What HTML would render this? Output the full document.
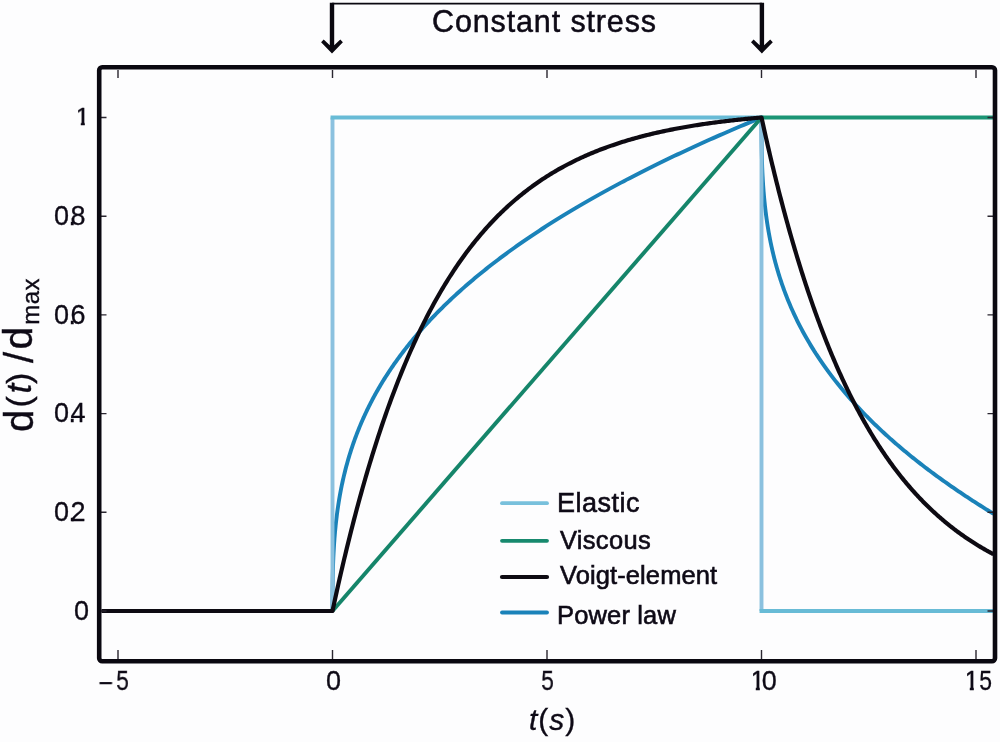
<!DOCTYPE html>
<html><head><meta charset="utf-8"><title>Creep response</title>
<style>
html,body{margin:0;padding:0;}
body{width:1000px;height:742px;background:#fdfdfe;overflow:hidden;position:relative;font-family:"Liberation Sans",sans-serif;color:#0e0a16;}
svg{position:absolute;left:0;top:0;}
.t{position:absolute;white-space:nowrap;line-height:1;will-change:transform;}
.one{display:inline-block;clip-path:polygon(3.1px 0,9.8px 0,9.8px 27px,5.8px 27px,5.8px 18.5px,3.1px 18.5px);}
.tick{font-size:27px;-webkit-text-stroke:0.3px #0e0a16;}
.leg{font-size:25.5px;-webkit-text-stroke:0.6px #0e0a16;}
#title{-webkit-text-stroke:0.5px #0e0a16;}
#xlab,#ylab{-webkit-text-stroke:0.35px #0e0a16;}
</style></head><body>
<svg width="1000" height="742" viewBox="0 0 1000 742">
<g fill="none" stroke-linejoin="miter">
<path d="M332.50,611.00 L332.50,607.96 L332.50,605.36 L332.50,602.90 L332.51,600.53 L332.52,598.23 L332.52,595.97 L332.54,593.75 L332.55,591.57 L332.57,589.42 L332.59,587.29 L332.61,585.18 L332.64,583.10 L332.67,581.03 L332.70,578.98 L332.74,576.95 L332.78,574.93 L332.83,572.93 L332.88,570.93 L332.93,568.95 L332.99,566.98 L333.06,565.02 L333.12,563.07 L333.20,561.13 L333.28,559.20 L333.36,557.28 L333.45,555.37 L333.54,553.46 L333.64,551.56 L333.75,549.67 L333.86,547.79 L333.97,545.91 L334.09,544.04 L334.22,542.18 L334.36,540.32 L334.49,538.47 L334.64,536.62 L334.79,534.78 L334.95,532.94 L335.11,531.11 L335.28,529.29 L335.46,527.47 L335.65,525.65 L335.84,523.84 L336.03,522.03 L336.24,520.23 L336.45,518.43 L336.67,516.64 L336.89,514.85 L337.13,513.06 L337.36,511.28 L337.61,509.50 L337.87,507.73 L338.13,505.96 L338.40,504.19 L338.67,502.42 L338.96,500.66 L339.25,498.91 L339.55,497.15 L339.86,495.40 L340.17,493.66 L340.50,491.91 L340.83,490.17 L341.17,488.43 L341.52,486.70 L341.87,484.97 L342.24,483.24 L342.61,481.51 L342.99,479.79 L343.38,478.07 L343.78,476.35 L344.19,474.63 L344.61,472.92 L345.03,471.21 L345.46,469.50 L345.91,467.80 L346.36,466.10 L346.82,464.39 L347.29,462.70 L347.77,461.00 L348.25,459.31 L348.75,457.62 L349.26,455.93 L349.77,454.24 L350.30,452.56 L350.83,450.87 L351.38,449.19 L351.93,447.52 L352.49,445.84 L353.07,444.17 L353.65,442.49 L354.24,440.82 L354.84,439.15 L355.45,437.49 L356.08,435.82 L356.71,434.16 L357.35,432.50 L358.00,430.84 L358.66,429.19 L359.34,427.53 L360.02,425.88 L360.71,424.23 L361.42,422.58 L362.13,420.93 L362.86,419.28 L363.59,417.64 L364.34,416.00 L365.09,414.36 L365.86,412.72 L366.64,411.08 L367.42,409.44 L368.22,407.81 L369.03,406.17 L369.86,404.54 L370.69,402.91 L371.53,401.29 L372.38,399.66 L373.25,398.03 L374.13,396.41 L375.01,394.79 L375.91,393.17 L376.82,391.55 L377.74,389.93 L378.68,388.31 L379.62,386.70 L380.58,385.08 L381.54,383.47 L382.52,381.86 L383.51,380.25 L384.51,378.64 L385.53,377.04 L386.55,375.43 L387.59,373.83 L388.64,372.22 L389.70,370.62 L390.78,369.02 L391.86,367.42 L392.96,365.82 L394.07,364.23 L395.19,362.63 L396.32,361.04 L397.47,359.44 L398.63,357.85 L399.80,356.26 L400.98,354.67 L402.17,353.08 L403.38,351.50 L404.60,349.91 L405.83,348.33 L407.08,346.74 L408.34,345.16 L409.61,343.58 L410.89,342.00 L412.19,340.42 L413.49,338.84 L414.82,337.27 L416.15,335.69 L417.50,334.12 L418.86,332.54 L420.23,330.97 L421.62,329.40 L423.01,327.83 L424.43,326.26 L425.85,324.69 L427.29,323.12 L428.74,321.56 L430.21,319.99 L431.68,318.43 L433.18,316.87 L434.68,315.30 L436.20,313.74 L437.73,312.18 L439.28,310.62 L440.84,309.07 L442.41,307.51 L443.99,305.95 L445.59,304.40 L447.21,302.84 L448.83,301.29 L450.47,299.74 L452.13,298.19 L453.80,296.63 L455.48,295.09 L457.18,293.54 L458.89,291.99 L460.61,290.44 L462.35,288.90 L464.10,287.35 L465.87,285.81 L467.65,284.26 L469.44,282.72 L471.25,281.18 L473.07,279.64 L474.91,278.10 L476.76,276.56 L478.63,275.02 L480.51,273.48 L482.41,271.95 L484.32,270.41 L486.24,268.88 L488.18,267.34 L490.13,265.81 L492.10,264.28 L494.08,262.75 L496.08,261.21 L498.09,259.68 L500.12,258.16 L502.16,256.63 L504.22,255.10 L506.29,253.57 L508.37,252.05 L510.48,250.52 L512.59,249.00 L514.72,247.47 L516.87,245.95 L519.03,244.43 L521.21,242.91 L523.40,241.39 L525.61,239.87 L527.83,238.35 L530.07,236.83 L532.32,235.31 L534.59,233.80 L536.87,232.28 L539.17,230.76 L541.48,229.25 L543.81,227.74 L546.16,226.22 L548.52,224.71 L550.90,223.20 L553.29,221.69 L555.69,220.18 L558.12,218.67 L560.56,217.16 L563.01,215.65 L565.48,214.14 L567.97,212.64 L570.47,211.13 L572.99,209.62 L575.52,208.12 L578.07,206.62 L580.64,205.11 L583.22,203.61 L585.82,202.11 L588.43,200.61 L591.06,199.10 L593.71,197.60 L596.37,196.10 L599.05,194.61 L601.75,193.11 L604.46,191.61 L607.19,190.11 L609.93,188.62 L612.69,187.12 L615.47,185.63 L618.26,184.13 L621.07,182.64 L623.90,181.15 L626.74,179.65 L629.60,178.16 L632.48,176.67 L635.37,175.18 L638.28,173.69 L641.20,172.20 L644.15,170.71 L647.11,169.22 L650.08,167.74 L653.08,166.25 L656.09,164.76 L659.11,163.28 L662.16,161.79 L665.22,160.31 L668.30,158.82 L671.39,157.34 L674.50,155.86 L677.63,154.37 L680.78,152.89 L683.94,151.41 L687.12,149.93 L690.32,148.45 L693.53,146.97 L696.77,145.49 L700.02,144.01 L703.28,142.54 L706.57,141.06 L709.87,139.58 L713.19,138.11 L716.52,136.63 L719.88,135.16 L723.25,133.68 L726.64,132.21 L730.05,130.74 L733.47,129.26 L736.91,127.79 L740.37,126.32 L743.85,124.85 L747.34,123.38 L750.86,121.91 L754.39,120.44 L757.93,118.97 L761.50,117.50 L761.50,119.94 L761.50,122.03 L761.50,124.00 L761.50,125.90 L761.51,127.76 L761.51,129.57 L761.52,131.35 L761.53,133.10 L761.54,134.83 L761.55,136.54 L761.56,138.23 L761.57,139.90 L761.59,141.56 L761.61,143.21 L761.63,144.84 L761.65,146.46 L761.68,148.07 L761.70,149.67 L761.73,151.26 L761.77,152.84 L761.80,154.42 L761.84,155.98 L761.88,157.54 L761.92,159.09 L761.97,160.63 L762.01,162.17 L762.06,163.70 L762.12,165.22 L762.17,166.74 L762.23,168.26 L762.30,169.76 L762.36,171.26 L762.43,172.76 L762.50,174.25 L762.58,175.74 L762.66,177.22 L762.74,178.70 L762.82,180.18 L762.91,181.65 L763.01,183.11 L763.10,184.57 L763.20,186.03 L763.30,187.49 L763.41,188.94 L763.52,190.39 L763.64,191.83 L763.75,193.27 L763.88,194.71 L764.00,196.14 L764.13,197.57 L764.26,199.00 L764.40,200.42 L764.54,201.85 L764.69,203.26 L764.84,204.68 L764.99,206.09 L765.15,207.51 L765.31,208.91 L765.48,210.32 L765.65,211.72 L765.83,213.12 L766.00,214.52 L766.19,215.91 L766.38,217.31 L766.57,218.70 L766.77,220.09 L766.97,221.47 L767.17,222.86 L767.39,224.24 L767.60,225.62 L767.82,227.00 L768.05,228.37 L768.28,229.74 L768.51,231.12 L768.75,232.48 L768.99,233.85 L769.24,235.22 L769.50,236.58 L769.76,237.94 L770.02,239.30 L770.29,240.66 L770.56,242.02 L770.84,243.37 L771.12,244.72 L771.41,246.07 L771.71,247.42 L772.01,248.77 L772.31,250.12 L772.62,251.46 L772.94,252.80 L773.26,254.14 L773.58,255.48 L773.91,256.82 L774.25,258.16 L774.59,259.49 L774.94,260.83 L775.29,262.16 L775.65,263.49 L776.01,264.82 L776.38,266.14 L776.76,267.47 L777.14,268.79 L777.52,270.12 L777.92,271.44 L778.31,272.76 L778.72,274.08 L779.13,275.40 L779.54,276.71 L779.96,278.03 L780.39,279.34 L780.82,280.65 L781.26,281.97 L781.70,283.28 L782.15,284.58 L782.61,285.89 L783.07,287.20 L783.54,288.50 L784.01,289.81 L784.49,291.11 L784.98,292.41 L785.47,293.71 L785.97,295.01 L786.47,296.31 L786.98,297.61 L787.50,298.90 L788.02,300.20 L788.55,301.49 L789.09,302.78 L789.63,304.07 L790.18,305.36 L790.73,306.65 L791.29,307.94 L791.86,309.23 L792.43,310.51 L793.02,311.80 L793.60,313.08 L794.20,314.37 L794.80,315.65 L795.40,316.93 L796.01,318.21 L796.63,319.49 L797.26,320.77 L797.89,322.04 L798.53,323.32 L799.18,324.59 L799.83,325.87 L800.49,327.14 L801.16,328.41 L801.83,329.69 L802.51,330.96 L803.20,332.23 L803.89,333.50 L804.59,334.76 L805.30,336.03 L806.02,337.30 L806.74,338.56 L807.47,339.83 L808.20,341.09 L808.94,342.35 L809.69,343.61 L810.45,344.87 L811.21,346.13 L811.98,347.39 L812.76,348.65 L813.55,349.91 L814.34,351.17 L815.14,352.42 L815.95,353.68 L816.76,354.93 L817.58,356.18 L818.41,357.44 L819.24,358.69 L820.09,359.94 L820.94,361.19 L821.79,362.44 L822.66,363.69 L823.53,364.94 L824.41,366.18 L825.30,367.43 L826.19,368.68 L827.10,369.92 L828.01,371.17 L828.92,372.41 L829.85,373.65 L830.78,374.89 L831.72,376.14 L832.67,377.38 L833.62,378.62 L834.59,379.86 L835.56,381.09 L836.54,382.33 L837.52,383.57 L838.52,384.81 L839.52,386.04 L840.53,387.28 L841.54,388.51 L842.57,389.74 L843.60,390.98 L844.64,392.21 L845.69,393.44 L846.75,394.67 L847.81,395.90 L848.88,397.13 L849.96,398.36 L851.05,399.59 L852.15,400.82 L853.25,402.05 L854.36,403.27 L855.48,404.50 L856.61,405.72 L857.75,406.95 L858.89,408.17 L860.04,409.40 L861.21,410.62 L862.37,411.84 L863.55,413.06 L864.74,414.28 L865.93,415.50 L867.13,416.72 L868.34,417.94 L869.56,419.16 L870.79,420.38 L872.02,421.60 L873.26,422.81 L874.52,424.03 L875.78,425.24 L877.04,426.46 L878.32,427.67 L879.61,428.89 L880.90,430.10 L882.20,431.31 L883.51,432.53 L884.83,433.74 L886.16,434.95 L887.50,436.16 L888.84,437.37 L890.19,438.58 L891.56,439.79 L892.93,441.00 L894.30,442.20 L895.69,443.41 L897.09,444.62 L898.49,445.82 L899.91,447.03 L901.33,448.23 L902.76,449.44 L904.20,450.64 L905.65,451.85 L907.11,453.05 L908.57,454.25 L910.05,455.45 L911.53,456.66 L913.03,457.86 L914.53,459.06 L916.04,460.26 L917.56,461.46 L919.09,462.65 L920.62,463.85 L922.17,465.05 L923.73,466.25 L925.29,467.45 L926.86,468.64 L928.45,469.84 L930.04,471.03 L931.64,472.23 L933.25,473.42 L934.87,474.62 L936.49,475.81 L938.13,477.00 L939.78,478.20 L941.43,479.39 L943.10,480.58 L944.77,481.77 L946.45,482.96 L948.15,484.15 L949.85,485.34 L951.56,486.53 L953.28,487.72 L955.01,488.91 L956.75,490.09 L958.49,491.28 L960.25,492.47 L962.02,493.66 L963.79,494.84 L965.58,496.03 L967.37,497.21 L969.18,498.40 L970.99,499.58 L972.81,500.77 L974.65,501.95 L976.49,503.13 L978.34,504.31 L980.20,505.50 L982.07,506.68 L983.95,507.86 L985.84,509.04 L987.74,510.22 L989.65,511.40 L991.57,512.58 L993.50,513.76" stroke="#1a82b9" stroke-width="3.9" stroke-linejoin="round"/>
<path d="M332.50,611.00V117.50 M761.50,117.50V611.00" stroke="#8bc1df" stroke-width="3.9"/>
<path d="M330.55,117.50H763.45 M759.55,611.00H993.5" stroke="#68bbd6" stroke-width="3.9"/>
<path d="M332.50,611.00 L761.50,117.50" stroke="#15856a" stroke-width="3.9"/>
<path d="M760.50,117.50H993.5" stroke="#1b9575" stroke-width="4"/>
<path d="M101.50,611.00 L332.50,611.00 L333.93,604.34 L335.36,597.77 L336.79,591.29 L338.22,584.89 L339.65,578.58 L341.08,572.35 L342.51,566.20 L343.94,560.14 L345.37,554.15 L346.80,548.25 L348.23,542.42 L349.66,536.67 L351.09,531.00 L352.52,525.40 L353.95,519.87 L355.38,514.42 L356.81,509.04 L358.24,503.74 L359.67,498.50 L361.10,493.33 L362.53,488.23 L363.96,483.20 L365.39,478.23 L366.82,473.33 L368.25,468.50 L369.68,463.73 L371.11,459.02 L372.54,454.37 L373.97,449.79 L375.40,445.27 L376.83,440.80 L378.26,436.40 L379.69,432.05 L381.12,427.77 L382.55,423.53 L383.98,419.36 L385.41,415.24 L386.84,411.17 L388.27,407.16 L389.70,403.20 L391.13,399.30 L392.56,395.44 L393.99,391.64 L395.42,387.89 L396.85,384.18 L398.28,380.53 L399.71,376.92 L401.14,373.37 L402.57,369.86 L404.00,366.39 L405.43,362.97 L406.86,359.60 L408.29,356.27 L409.72,352.99 L411.15,349.75 L412.58,346.55 L414.01,343.39 L415.44,340.28 L416.87,337.21 L418.30,334.17 L419.73,331.18 L421.16,328.23 L422.59,325.32 L424.02,322.44 L425.45,319.61 L426.88,316.81 L428.31,314.05 L429.74,311.32 L431.17,308.63 L432.60,305.98 L434.03,303.36 L435.46,300.78 L436.89,298.23 L438.32,295.71 L439.75,293.23 L441.18,290.78 L442.61,288.36 L444.04,285.98 L445.47,283.62 L446.90,281.30 L448.33,279.01 L449.76,276.75 L451.19,274.52 L452.62,272.32 L454.05,270.14 L455.48,268.00 L456.91,265.88 L458.34,263.80 L459.77,261.74 L461.20,259.71 L462.63,257.70 L464.06,255.72 L465.49,253.77 L466.92,251.84 L468.35,249.94 L469.78,248.06 L471.21,246.21 L472.64,244.39 L474.07,242.58 L475.50,240.80 L476.93,239.05 L478.36,237.32 L479.79,235.61 L481.22,233.92 L482.65,232.26 L484.08,230.62 L485.51,229.00 L486.94,227.40 L488.37,225.82 L489.80,224.26 L491.23,222.73 L492.66,221.21 L494.09,219.72 L495.52,218.24 L496.95,216.78 L498.38,215.35 L499.81,213.93 L501.24,212.53 L502.67,211.15 L504.10,209.79 L505.53,208.44 L506.96,207.12 L508.39,205.81 L509.82,204.52 L511.25,203.24 L512.68,201.98 L514.11,200.74 L515.54,199.52 L516.97,198.31 L518.40,197.12 L519.83,195.94 L521.26,194.78 L522.69,193.64 L524.12,192.50 L525.55,191.39 L526.98,190.29 L528.41,189.20 L529.84,188.13 L531.27,187.07 L532.70,186.03 L534.13,185.00 L535.56,183.98 L536.99,182.98 L538.42,181.99 L539.85,181.02 L541.28,180.05 L542.71,179.10 L544.14,178.17 L545.57,177.24 L547.00,176.33 L548.43,175.43 L549.86,174.54 L551.29,173.66 L552.72,172.79 L554.15,171.94 L555.58,171.10 L557.01,170.26 L558.44,169.44 L559.87,168.63 L561.30,167.83 L562.73,167.05 L564.16,166.27 L565.59,165.50 L567.02,164.74 L568.45,163.99 L569.88,163.26 L571.31,162.53 L572.74,161.81 L574.17,161.10 L575.60,160.40 L577.03,159.71 L578.46,159.03 L579.89,158.36 L581.32,157.70 L582.75,157.04 L584.18,156.40 L585.61,155.76 L587.04,155.13 L588.47,154.51 L589.90,153.90 L591.33,153.29 L592.76,152.70 L594.19,152.11 L595.62,151.53 L597.05,150.96 L598.48,150.39 L599.91,149.83 L601.34,149.28 L602.77,148.74 L604.20,148.20 L605.63,147.68 L607.06,147.15 L608.49,146.64 L609.92,146.13 L611.35,145.63 L612.78,145.14 L614.21,144.65 L615.64,144.17 L617.07,143.69 L618.50,143.22 L619.93,142.76 L621.36,142.30 L622.79,141.85 L624.22,141.41 L625.65,140.97 L627.08,140.54 L628.51,140.11 L629.94,139.69 L631.37,139.27 L632.80,138.86 L634.23,138.46 L635.66,138.06 L637.09,137.66 L638.52,137.27 L639.95,136.89 L641.38,136.51 L642.81,136.14 L644.24,135.77 L645.67,135.41 L647.10,135.05 L648.53,134.69 L649.96,134.34 L651.39,134.00 L652.82,133.66 L654.25,133.32 L655.68,132.99 L657.11,132.66 L658.54,132.34 L659.97,132.02 L661.40,131.71 L662.83,131.40 L664.26,131.09 L665.69,130.79 L667.12,130.49 L668.55,130.20 L669.98,129.91 L671.41,129.62 L672.84,129.34 L674.27,129.06 L675.70,128.78 L677.13,128.51 L678.56,128.24 L679.99,127.98 L681.42,127.72 L682.85,127.46 L684.28,127.21 L685.71,126.96 L687.14,126.71 L688.57,126.47 L690.00,126.23 L691.43,125.99 L692.86,125.75 L694.29,125.52 L695.72,125.29 L697.15,125.07 L698.58,124.85 L700.01,124.63 L701.44,124.41 L702.87,124.20 L704.30,123.99 L705.73,123.78 L707.16,123.57 L708.59,123.37 L710.02,123.17 L711.45,122.98 L712.88,122.78 L714.31,122.59 L715.74,122.40 L717.17,122.21 L718.60,122.03 L720.03,121.85 L721.46,121.67 L722.89,121.49 L724.32,121.32 L725.75,121.14 L727.18,120.97 L728.61,120.80 L730.04,120.64 L731.47,120.48 L732.90,120.31 L734.33,120.15 L735.76,120.00 L737.19,119.84 L738.62,119.69 L740.05,119.54 L741.48,119.39 L742.91,119.24 L744.34,119.10 L745.77,118.95 L747.20,118.81 L748.63,118.67 L750.06,118.54 L751.49,118.40 L752.92,118.27 L754.35,118.13 L755.78,118.00 L757.21,117.88 L758.64,117.75 L760.07,117.62 L761.50,117.50 L762.27,121.05 L763.05,124.57 L763.82,128.06 L764.59,131.53 L765.37,134.98 L766.14,138.40 L766.91,141.79 L767.69,145.16 L768.46,148.51 L769.23,151.83 L770.01,155.13 L770.78,158.41 L771.55,161.66 L772.33,164.89 L773.10,168.09 L773.87,171.27 L774.65,174.43 L775.42,177.57 L776.19,180.68 L776.97,183.77 L777.74,186.84 L778.51,189.89 L779.29,192.92 L780.06,195.92 L780.83,198.90 L781.61,201.86 L782.38,204.80 L783.15,207.72 L783.93,210.62 L784.70,213.50 L785.47,216.35 L786.25,219.19 L787.02,222.00 L787.79,224.80 L788.57,227.57 L789.34,230.33 L790.11,233.06 L790.89,235.78 L791.66,238.47 L792.43,241.15 L793.21,243.81 L793.98,246.44 L794.75,249.06 L795.53,251.66 L796.30,254.25 L797.07,256.81 L797.85,259.35 L798.62,261.88 L799.39,264.39 L800.17,266.88 L800.94,269.35 L801.71,271.81 L802.49,274.24 L803.26,276.66 L804.03,279.06 L804.81,281.45 L805.58,283.82 L806.35,286.17 L807.13,288.50 L807.90,290.82 L808.67,293.12 L809.45,295.40 L810.22,297.67 L810.99,299.92 L811.77,302.16 L812.54,304.38 L813.31,306.58 L814.09,308.77 L814.86,310.94 L815.63,313.09 L816.41,315.23 L817.18,317.36 L817.95,319.47 L818.73,321.56 L819.50,323.64 L820.27,325.71 L821.05,327.76 L821.82,329.79 L822.59,331.81 L823.37,333.82 L824.14,335.81 L824.91,337.79 L825.69,339.75 L826.46,341.70 L827.23,343.63 L828.01,345.55 L828.78,347.46 L829.55,349.35 L830.33,351.23 L831.10,353.10 L831.87,354.95 L832.65,356.79 L833.42,358.62 L834.19,360.43 L834.97,362.23 L835.74,364.02 L836.51,365.79 L837.29,367.56 L838.06,369.30 L838.83,371.04 L839.61,372.77 L840.38,374.48 L841.15,376.18 L841.93,377.86 L842.70,379.54 L843.47,381.20 L844.25,382.85 L845.02,384.49 L845.79,386.12 L846.57,387.73 L847.34,389.34 L848.11,390.93 L848.89,392.51 L849.66,394.08 L850.43,395.64 L851.21,397.19 L851.98,398.72 L852.75,400.25 L853.53,401.76 L854.30,403.27 L855.07,404.76 L855.85,406.24 L856.62,407.71 L857.39,409.17 L858.17,410.62 L858.94,412.06 L859.71,413.49 L860.49,414.91 L861.26,416.32 L862.03,417.72 L862.81,419.11 L863.58,420.49 L864.35,421.85 L865.13,423.21 L865.90,424.56 L866.67,425.90 L867.45,427.23 L868.22,428.55 L868.99,429.86 L869.77,431.16 L870.54,432.46 L871.31,433.74 L872.09,435.01 L872.86,436.28 L873.63,437.53 L874.41,438.78 L875.18,440.02 L875.95,441.24 L876.73,442.46 L877.50,443.68 L878.27,444.88 L879.05,446.07 L879.82,447.26 L880.59,448.43 L881.37,449.60 L882.14,450.76 L882.91,451.91 L883.69,453.05 L884.46,454.19 L885.23,455.32 L886.01,456.43 L886.78,457.54 L887.55,458.65 L888.33,459.74 L889.10,460.83 L889.87,461.91 L890.65,462.98 L891.42,464.04 L892.19,465.10 L892.97,466.15 L893.74,467.19 L894.51,468.22 L895.29,469.25 L896.06,470.26 L896.83,471.28 L897.61,472.28 L898.38,473.28 L899.15,474.27 L899.93,475.25 L900.70,476.22 L901.47,477.19 L902.25,478.15 L903.02,479.11 L903.79,480.05 L904.57,481.00 L905.34,481.93 L906.11,482.86 L906.89,483.78 L907.66,484.69 L908.43,485.60 L909.21,486.50 L909.98,487.39 L910.75,488.28 L911.53,489.16 L912.30,490.04 L913.07,490.91 L913.85,491.77 L914.62,492.63 L915.39,493.48 L916.17,494.32 L916.94,495.16 L917.71,495.99 L918.49,496.82 L919.26,497.64 L920.03,498.45 L920.81,499.26 L921.58,500.07 L922.35,500.86 L923.13,501.65 L923.90,502.44 L924.67,503.22 L925.45,503.99 L926.22,504.76 L926.99,505.53 L927.77,506.28 L928.54,507.04 L929.31,507.78 L930.09,508.52 L930.86,509.26 L931.63,509.99 L932.41,510.72 L933.18,511.44 L933.95,512.15 L934.73,512.86 L935.50,513.57 L936.27,514.27 L937.05,514.96 L937.82,515.65 L938.59,516.34 L939.37,517.02 L940.14,517.69 L940.91,518.36 L941.69,519.03 L942.46,519.69 L943.23,520.35 L944.01,521.00 L944.78,521.64 L945.55,522.29 L946.33,522.92 L947.10,523.56 L947.87,524.19 L948.65,524.81 L949.42,525.43 L950.19,526.04 L950.97,526.65 L951.74,527.26 L952.51,527.86 L953.29,528.46 L954.06,529.05 L954.83,529.64 L955.61,530.22 L956.38,530.81 L957.15,531.38 L957.93,531.95 L958.70,532.52 L959.47,533.09 L960.25,533.64 L961.02,534.20 L961.79,534.75 L962.57,535.30 L963.34,535.84 L964.11,536.38 L964.89,536.92 L965.66,537.45 L966.43,537.98 L967.21,538.51 L967.98,539.03 L968.75,539.54 L969.53,540.06 L970.30,540.57 L971.07,541.07 L971.85,541.57 L972.62,542.07 L973.39,542.57 L974.17,543.06 L974.94,543.55 L975.71,544.03 L976.49,544.51 L977.26,544.99 L978.03,545.47 L978.81,545.94 L979.58,546.40 L980.35,546.87 L981.13,547.33 L981.90,547.79 L982.67,548.24 L983.45,548.69 L984.22,549.14 L984.99,549.58 L985.77,550.03 L986.54,550.46 L987.31,550.90 L988.09,551.33 L988.86,551.76 L989.63,552.18 L990.41,552.61 L991.18,553.03 L991.95,553.44 L992.73,553.86 L993.50,554.27" stroke="#0d0a12" stroke-width="4.2" stroke-linejoin="round"/>
</g>
<!-- ticks -->
<g stroke="#2a2630" stroke-width="1.4">
<path d="M118,70V78 M332.5,70V78 M547,70V78 M761.5,70V78 M976,70V78"/>
<path d="M118,659V650 M332.5,659V650 M547,659V650 M761.5,659V650 M976,659V650"/>
<path d="M101,117.5H106.5 M101,216.2H106.5 M101,314.9H106.5 M101,413.6H106.5 M101,512.3H106.5 M101,611H106.5"/>
<path d="M993,117.5H987.5 M993,216.2H987.5 M993,314.9H987.5 M993,413.6H987.5 M993,512.3H987.5 M993,611H987.5"/>
</g>
<!-- frame -->
<rect x="99.2" y="67.2" width="895.8" height="594" rx="3" ry="3" fill="none" stroke="#0a0810" stroke-width="4.6"/>
<!-- bracket -->
<path d="M332,3.65H762" stroke="#0a0810" stroke-width="1.8" fill="none"/>
<path d="M329.8,2.7H334.2V45.2L340.3,39.6L342.9,42.2L332.0,53.4L321.1,42.2L323.7,39.6L329.8,45.2Z" fill="#0a0810"/>
<path d="M759.6999999999999,2.7H764.1V45.2L770.1999999999999,39.6L772.8,42.2L761.9,53.4L751.0,42.2L753.6,39.6L759.6999999999999,45.2Z" fill="#0a0810"/>
<!-- legend lines -->
<g stroke-width="3.8" stroke-linecap="round" fill="none">
<path d="M502,503.2H547" stroke="#78c0dc"/>
<path d="M502,540.8H547" stroke="#17896e"/>
<path d="M502,577H547" stroke="#0d0a12" stroke-width="4.2"/>
<path d="M502,612.5H547" stroke="#1a82b9"/>
</g>
</svg>
<div class="t" id="title" style="left:432px;top:5.6px;font-size:30.5px;letter-spacing:0.87px;">Constant stress</div>
<div class="t tick" id="y1" style="left:75px;top:104.8px;transform-origin:0 2.5px;transform:scaleY(0.9);"><span class="one">1</span></div>
<div class="t tick" id="y08" style="left:54px;top:202.9px;letter-spacing:1.5px;">0<span style="margin:0 -6.9px 0 -2.1px">.</span>8</div>
<div class="t tick" id="y06" style="left:54px;top:301.6px;letter-spacing:1.5px;">0<span style="margin:0 -6.9px 0 -2.1px">.</span>6</div>
<div class="t tick" id="y04" style="left:54px;top:400.3px;letter-spacing:1.5px;">0<span style="margin:0 -6.9px 0 -2.1px">.</span>4</div>
<div class="t tick" id="y02" style="left:54px;top:499px;letter-spacing:1.5px;">0<span style="margin:0 -6.9px 0 -2.1px">.</span>2</div>
<div class="t tick" id="y0" style="left:74.4px;top:598.2px;">0</div>
<div class="t tick" id="xm" style="left:98.2px;top:669.6px;transform:scaleX(0.93);">&#8722;</div>
<div class="t tick" id="xm5" style="left:115.2px;top:668.3px;transform:scaleX(0.85);">5</div>
<div class="t tick" id="x0" style="left:326.3px;top:668.3px;">0</div>
<div class="t tick" id="x5" style="left:540px;top:668.3px;transform:scaleX(0.85);">5</div>
<div class="t tick" id="x10" style="left:749.7px;top:668.3px;"><span class="one">1</span><span style="position:absolute;left:11.8px;top:0;">0</span></div>
<div class="t tick" id="x15" style="left:963.6px;top:668.3px;"><span class="one">1</span><span style="position:absolute;left:14.2px;top:0;transform:scaleX(0.85);">5</span></div>
<div class="t" id="xlab" style="left:529px;top:705px;font-size:30px;letter-spacing:1px;"><i>t</i>(<i>s</i>)</div>
<div class="t" id="ylab" style="left:0;top:0;width:160px;height:45px;transform-origin:0 0;transform:translate(0px,431px) rotate(-90deg);"><span id="p1" style="position:absolute;left:-1.0px;top:-1.16px;font-size:40px;line-height:1;">d</span><span id="p2" style="position:absolute;left:23.5px;top:1.42px;font-size:34px;line-height:1;">(</span><span id="p3" style="position:absolute;left:37.6px;top:0.57px;font-size:35px;line-height:1;font-style:italic;">t</span><span id="p4" style="position:absolute;left:47.1px;top:1.42px;font-size:34px;line-height:1;">)</span><span id="p5" style="position:absolute;left:68px;top:-0.96px;font-size:40px;line-height:1;">/</span><span id="p6" style="position:absolute;left:81.5px;top:-1.81px;font-size:41px;line-height:1;">d</span><span id="p7" style="position:absolute;left:106.3px;top:18.68px;font-size:24px;line-height:1;letter-spacing:0.4px;">max</span></div>
<div class="t leg" id="l1" style="left:557px;top:490.2px;font-size:27px;letter-spacing:0.5px;">Elastic</div>
<div class="t leg" id="l2" style="left:560.2px;top:528.2px;letter-spacing:0.3px;">Viscous</div>
<div class="t leg" id="l3" style="left:560px;top:563.2px;letter-spacing:0.1px;">Voigt-element</div>
<div class="t leg" id="l4" style="left:556.6px;top:603.3px;letter-spacing:0.15px;">Power law</div>
</body></html>
